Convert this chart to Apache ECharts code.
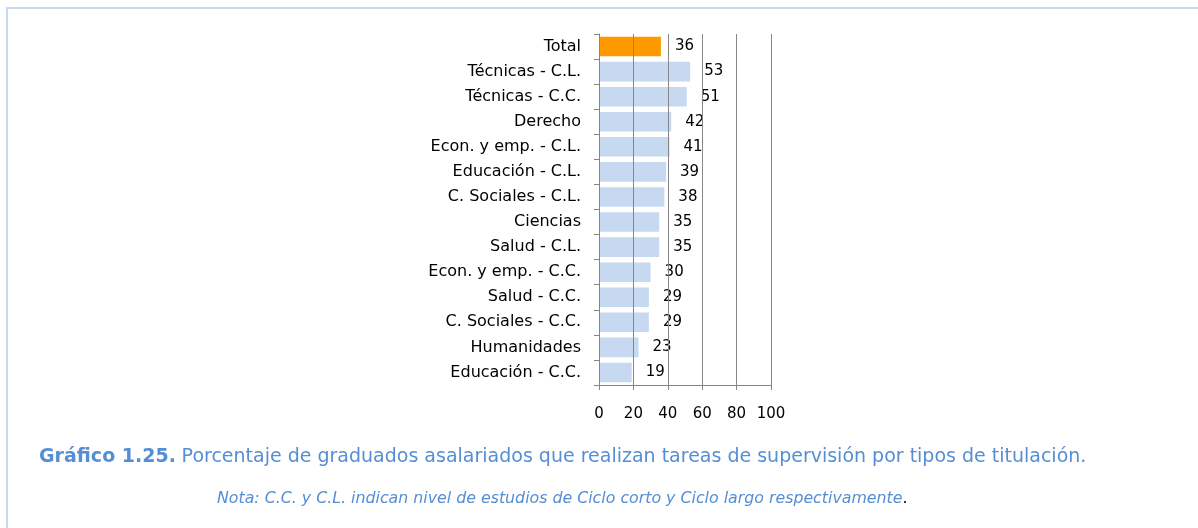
<!DOCTYPE html>
<html>
<head>
<meta charset="utf-8">
<script src="https://cdn.jsdelivr.net/npm/echarts@6/dist/echarts.min.js"></script>
<style>
  html, body { margin: 0; padding: 0; background: #fff; }
  #chart { width: 1198px; height: 528px; }
</style>
</head>
<body>
<div id="chart"></div>
<script>
// categories, top to bottom as in the picture
const categories = [
  "Total", "Técnicas - C.L.", "Técnicas - C.C.", "Derecho", "Econ. y emp. - C.L.",
  "Educación - C.L.", "C. Sociales - C.L.", "Ciencias", "Salud - C.L.",
  "Econ. y emp. - C.C.", "Salud - C.C.", "C. Sociales - C.C.", "Humanidades", "Educación - C.C."
];
const values = [36, 53, 51, 42, 41, 39, 38, 35, 35, 30, 29, 29, 23, 19];
const xTicks = [0, 20, 40, 60, 80, 100];

const titleBold = "Gráfico 1.25.";
const titleText = "Porcentaje de graduados asalariados que realizan tareas de supervisión por tipos de titulación.";
const noteText = "Nota: C.C. y C.L. indican nivel de estudios de Ciclo corto y Ciclo largo respectivamente";

const font = "DejaVu Sans";
const blue = "#558ED5";

// ECharts draws category axis from bottom up, so reverse
const cats = categories.slice().reverse();
const data = values.slice().reverse().map((v, i) => ({
  value: v,
  itemStyle: { color: cats[i] === "Total" ? "#FF9900" : "#C6D9F1" }
}));

const chart = echarts.init(document.getElementById("chart"));
chart.setOption({
  animation: false,
  textStyle: { fontFamily: font },
  graphic: [{
    type: "rect",
    shape: { x: 7, y: 8, width: 1300, height: 700 },
    style: { fill: "none", stroke: "#C6D9F1", lineWidth: 2 },
    silent: true
  }],
  title: [{
    text: "{b|" + titleBold + "} {n|" + titleText + "}",
    left: 39,
    top: 448,
    padding: 0,
    textStyle: {
      fontWeight: "normal",
      rich: {
        b: { fontFamily: font, fontSize: 19, fontWeight: "bold", color: blue },
        n: { fontFamily: font, fontSize: 19, fontWeight: "normal", color: blue }
      }
    }
  }, {
    text: "{n|" + noteText + "}{p|.}",
    left: 217,
    top: 491,
    padding: 0,
    textStyle: {
      fontWeight: "normal",
      rich: {
        n: { fontFamily: font, fontSize: 15.8, fontStyle: "italic", fontWeight: "normal", color: blue },
        p: { fontFamily: font, fontSize: 15.8, fontWeight: "normal", color: "#000" }
      }
    }
  }],
  grid: { left: 599, right: 427, top: 34, bottom: 143, containLabel: false },
  xAxis: {
    type: "value",
    min: xTicks[0],
    max: xTicks[xTicks.length - 1],
    interval: 20,
    z: 3,
    axisLine: { show: true, lineStyle: { color: "#868686", width: 1 } },
    axisTick: { show: true, length: 5, lineStyle: { color: "#868686" } },
    axisLabel: { color: "#000", fontSize: 15, fontFamily: font, margin: 22 },
    splitLine: { show: true, lineStyle: { color: "#868686", width: 1 } }
  },
  yAxis: {
    type: "category",
    data: cats,
    z: 3,
    axisLine: { show: true, lineStyle: { color: "#868686", width: 1 } },
    axisTick: { show: true, length: 5, lineStyle: { color: "#868686" } },
    axisLabel: { color: "#000", fontSize: 16, fontFamily: font, margin: 18 }
  },
  series: [{
    type: "bar",
    data: data,
    barCategoryGap: "22%",
    label: {
      show: true,
      position: "right",
      distance: 14,
      color: "#000",
      fontSize: 15,
      fontFamily: font
    }
  }]
});
</script>
</body>
</html>
